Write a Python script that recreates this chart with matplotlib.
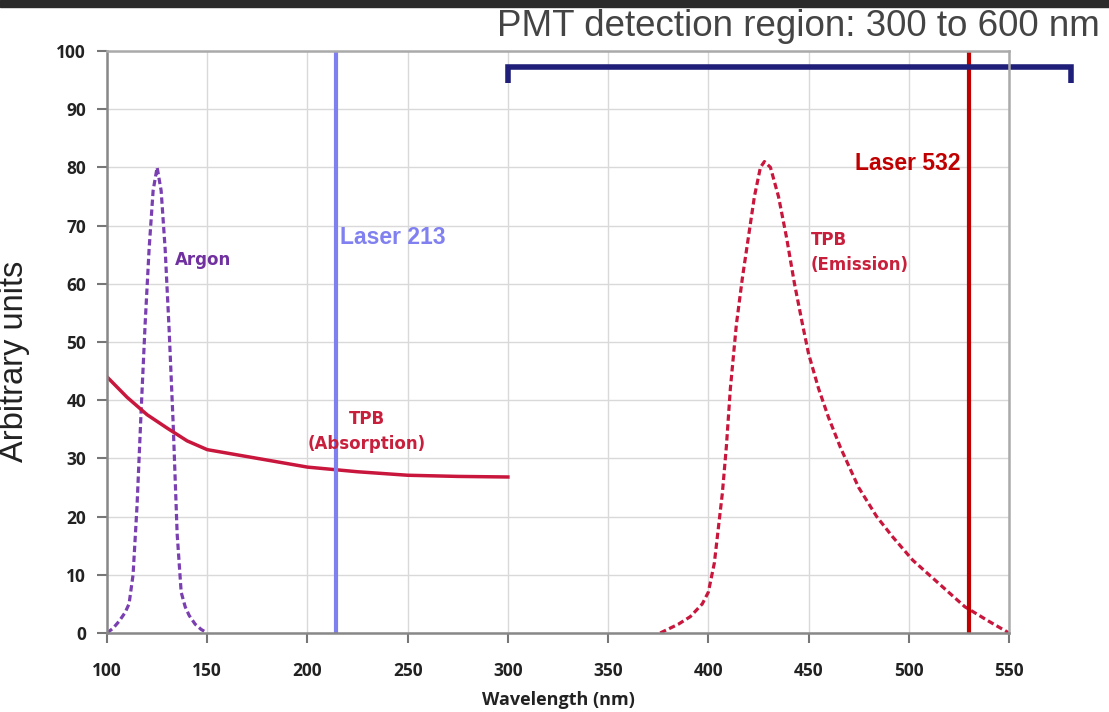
import matplotlib.pyplot as plt
from matplotlib.patches import Rectangle

# Argon scintillation spectrum (dashed purple)
argon_wl = [100, 103, 106, 109, 111, 113, 115, 117, 119, 121, 123, 125,
            127, 129, 131, 133, 135, 137, 139, 141, 144, 147, 150]
argon_val = [0, 0.8, 2, 3.5, 5, 10, 22, 38, 53, 66, 76, 80,
             76, 66, 52, 36, 17, 7, 4.5, 3, 1.5, 0.6, 0]

# TPB absorption (solid red)
abs_wl = [100, 110, 120, 130, 140, 150, 175, 200, 225, 250, 275, 300]
abs_val = [44, 40.5, 37.5, 35.2, 33, 31.5, 30, 28.5, 27.7, 27.1, 26.9, 26.8]

# TPB emission (dashed red)
em_wl = [376, 385, 391, 397, 400, 403, 405, 407, 409, 411, 414, 417, 420,
         423, 426, 428, 431, 435, 439, 443, 447, 450, 455, 460, 466, 475,
         484, 492, 502, 515, 528, 540, 550]
em_val = [0, 1.5, 2.8, 5, 7, 12, 18, 24, 32, 42, 53, 61, 68,
          75, 80, 81, 80, 75, 68, 60, 53, 48, 42, 37, 31.8, 25,
          20, 16.5, 12.5, 8.5, 4.5, 2, 0]

laser_uv = 214
laser_green = 530
pmt_range = [300, 581]

fig = plt.figure(figsize=(11.09, 7.12), dpi=100)
fig.patches.append(Rectangle((0, 0.99), 1, 0.01, transform=fig.transFigure,
                             color="#2b2b2b", zorder=0))
ax = fig.add_axes([0.0965, 0.111, 0.8133, 0.8174])

ax.grid(True, color="#d9d9d9", linewidth=1)
ax.set_axisbelow(True)

ax.plot(argon_wl, argon_val, color="#7a3fb0", linestyle=(0, (2.0, 1.1)), lw=2.3)
ax.plot(abs_wl, abs_val, color="#c8163c", lw=2.5)
ax.plot(em_wl, em_val, color="#c8163c", linestyle=(0, (2.0, 1.1)), lw=2.3)

ax.plot([laser_uv, laser_uv], [0, 100], color="#7f7ff0", lw=3)
ax.plot([laser_green, laser_green], [0, 100], color="#c00000", lw=3)

# PMT bracket
ax.plot([pmt_range[0], pmt_range[0], pmt_range[1], pmt_range[1]],
        [94.5, 97.3, 97.3, 94.5], color="#1f1f7a", lw=4, clip_on=False,
        solid_capstyle="butt", solid_joinstyle="miter")

ax.set_xlim(100, 550)
ax.set_ylim(0, 100)
ax.set_xticks(range(100, 551, 50))
ax.set_yticks(range(0, 101, 10))

for s in ax.spines.values():
    s.set_color("#888888")
    s.set_linewidth(1.8)
ax.spines["top"].set_color("#aaaaaa")
ax.spines["right"].set_color("#aaaaaa")
ax.tick_params(axis="both", colors="#777777", length=7, width=1.5,
               labelcolor="#222222", labelsize=12.5)
ax.tick_params(axis="x", pad=14)
ax.tick_params(axis="y", pad=8)
for lab in ax.get_xticklabels() + ax.get_yticklabels():
    lab.set_fontweight("bold")
    lab.set_family("Open Sans")

ax.set_xlabel("Wavelength (nm)", fontsize=13, fontweight="bold",
              family="Open Sans", color="#222222", labelpad=8)
ax.set_ylabel("Arbitrary units", fontsize=23.5, family="Liberation Sans",
              color="#222222")
ax.yaxis.set_label_coords(-0.0854, 0.466)

ax.text(134, 64, "Argon", color="#7030a0", fontsize=12, fontweight="bold",
        va="center", ha="left")
ax.text(216, 68, "Laser 213", color="#8080f0", fontsize=16.5, fontweight="bold",
        va="center", ha="left", family="Liberation Sans")
ax.text(229.5, 34.7, "TPB\n(Absorption)", color="#c8203c", fontsize=12,
        fontweight="bold", va="center", ha="center", linespacing=1.5)
ax.text(451, 65.4, "TPB\n(Emission)", color="#c8203c", fontsize=12,
        fontweight="bold", va="center", ha="left", linespacing=1.5)
ax.text(526, 80.6, "Laser 532", color="#c00000", fontsize=16.5,
        fontweight="bold", va="center", ha="right", family="Liberation Sans")

fig.text(0.992, 0.963, "PMT detection region: 300 to 600 nm", ha="right",
         va="center", fontsize=26.5, family="Liberation Sans", color="#444444")

fig.savefig("out.png", dpi=100, facecolor="white")
